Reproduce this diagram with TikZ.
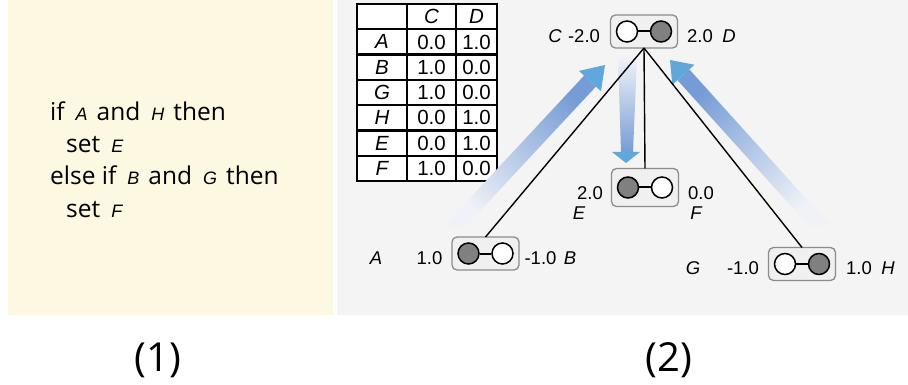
\documentclass[tikz,border=0pt]{standalone}
\usepackage{fontspec}
\usetikzlibrary{calc}
\setmainfont{Open Sans}
\newfontfamily\hel{Liberation Sans}
\definecolor{cream}{RGB}{252,248,225}
\definecolor{panelgray}{RGB}{244,244,244}
\definecolor{boxfill}{RGB}{240,240,240}
\definecolor{boxline}{RGB}{140,140,140}
\definecolor{dotgray}{RGB}{128,128,128}
\definecolor{shaftblue}{RGB}{118,156,214}
\definecolor{headblue}{RGB}{96,168,220}
\definecolor{fadeblue}{RGB}{240,242,247}
\newcommand\ltr[1]{\hspace{11pt}{\hel\itshape\fontsize{18}{18}\selectfont #1}\hspace{9pt}}
\begin{document}
\begin{tikzpicture}[x=1pt,y=1pt,
  unit/.style={draw=boxline, fill=boxfill, line width=1.3pt, rounded corners=5pt,
    minimum width=67pt, minimum height=33pt, inner sep=0pt, outer sep=0pt},
  dot/.style={circle, draw=black, line width=1.5pt, minimum size=21pt, inner sep=0pt},
  graydot/.style={dot, fill=dotgray},
  whitedot/.style={dot, fill=white},
  bar/.style={line width=2pt, black},
  lbl/.style={font=\hel\fontsize{18.5}{18.5}\selectfont, inner sep=0pt},
  ilbl/.style={font=\hel\itshape\fontsize{18.5}{18.5}\selectfont, inner sep=0pt},
  cell/.style={draw=black, line width=2.2pt, fill=white, minimum height=25.3pt,
    inner sep=0pt, outer sep=0pt, anchor=north west, font=\hel\fontsize{20.5}{20.5}\selectfont},
  codeline/.style={anchor=base west, inner sep=0pt, font=\fontsize{24.5}{24.5}\selectfont},
  panellabel/.style={inner sep=0pt, font=\fontsize{40}{40}\selectfont},
  link/.style={line width=1.4pt, black},
  shaft/.style={draw=none},
  head/.style={fill=headblue, draw=none}
]
\useasboundingbox (0,0) rectangle (908,-385);
% panels
\fill[cream] (8,0) rectangle (333,-315);
\fill[panelgray] (337,0) rectangle (908,-315);

% code text
\node[codeline] (l1) at (50,-120.7) {if\ltr{A}and\ltr{H}then};
\node[codeline] (l2) at (66,-153) {set\ltr{E}};
\node[codeline] (l3) at (50,-185) {else if\ltr{B}and\ltr{G}then};
\node[codeline] (l4) at (66,-217) {set\ltr{F}};

% panel labels
\node[panellabel] (p1) at (158,-360) {(1)};
\node[panellabel] (p2) at (669,-360) {(2)};

% table
\node[cell, minimum width=50pt] (h0) at (357,-4) {};
\node[cell, minimum width=49pt] (hc) at (407,-4) {\itshape C};
\node[cell, minimum width=41pt] (hd) at (456,-4) {\itshape D};
\foreach \lab/\cv/\dv [count=\i] in {A/0.0/1.0, B/1.0/0.0, G/1.0/0.0, H/0.0/1.0, E/0.0/1.0, F/1.0/0.0} {
  \node[cell, minimum width=50pt] (ra\i) at (357,{-4-25.3*\i}) {\itshape\lab};
  \node[cell, minimum width=49pt] (rc\i) at (407,{-4-25.3*\i}) {\cv};
  \node[cell, minimum width=41pt] (rd\i) at (456,{-4-25.3*\i}) {\dv};
}

% blue arrows
\shade[shaft, bottom color=fadeblue, top color=shaftblue, shading angle=-45]
  (444,-226) -- (584.1,-75.6) -- (595.9,-86.6) -- (466,-226) -- cycle;
\fill[head] (579,-70.9) -- (605,-65) -- (601,-91.3) -- cycle;
\shade[shaft, bottom color=fadeblue, top color=shaftblue, shading angle=45]
  (808.2,-225) -- (677.5,-80.2) -- (689.3,-69.4) -- (829.8,-225) -- cycle;
\fill[head] (672.3,-84.85) -- (670,-60) -- (694.5,-64.75) -- cycle;
\shade[shaft, top color=fadeblue, bottom color=shaftblue]
  (618,-58) -- (637,-58) -- (633,-152) -- (621,-152) -- cycle;
\fill[head] (612,-152) -- (640,-152) -- (626,-163) -- cycle;

% units
\node[unit] (cd) at (644,-31.5) {};
\node[unit, minimum height=38pt] (ef) at (645,-187.5) {};
\node[unit] (ab) at (485.5,-253.5) {};
\node[unit] (gh) at (802,-264) {};

% connectors
\draw[link] (cd.south) -- (ab.north);
\draw[link] (cd.south) -- (ef.north);
\draw[link] (cd.south) -- (gh.north);

% dots
\node[whitedot] (cdl) at ($(cd)+(-17,0)$) {};
\node[graydot] (cdr) at ($(cd)+(17,0)$) {};
\draw[bar] (cdl) -- (cdr);
\node[graydot] (efl) at ($(ef)+(-17,0)$) {};
\node[whitedot] (efr) at ($(ef)+(17,0)$) {};
\draw[bar] (efl) -- (efr);
\node[graydot] (abl) at ($(ab)+(-17,0)$) {};
\node[whitedot] (abr) at ($(ab)+(17,0)$) {};
\draw[bar] (abl) -- (abr);
\node[whitedot] (ghl) at ($(gh)+(-17,0)$) {};
\node[graydot] (ghr) at ($(gh)+(17,0)$) {};
\draw[bar] (ghl) -- (ghr);

% labels
\node[ilbl] (lc) at (555,-36.5) {C};
\node[lbl] (vc) at (584,-36.5) {-2.0};
\node[lbl] (vd) at (700,-36.5) {2.0};
\node[ilbl] (ld) at (729,-36.5) {D};
\node[lbl] (ve) at (590,-193) {2.0};
\node[ilbl] (le) at (579,-213.5) {E};
\node[lbl] (vf) at (701,-193) {0.0};
\node[ilbl] (lf) at (696,-213.5) {F};
\node[ilbl] (la) at (376,-258) {A};
\node[lbl] (va) at (429.5,-258) {1.0};
\node[lbl] (vb) at (540.5,-258) {-1.0};
\node[ilbl] (lb) at (570,-258) {B};
\node[ilbl] (lg) at (693,-268.5) {G};
\node[lbl] (vg) at (743,-268.5) {-1.0};
\node[lbl] (vh) at (859,-268.5) {1.0};
\node[ilbl] (lh) at (888,-268.5) {H};
\end{tikzpicture}
\end{document}
